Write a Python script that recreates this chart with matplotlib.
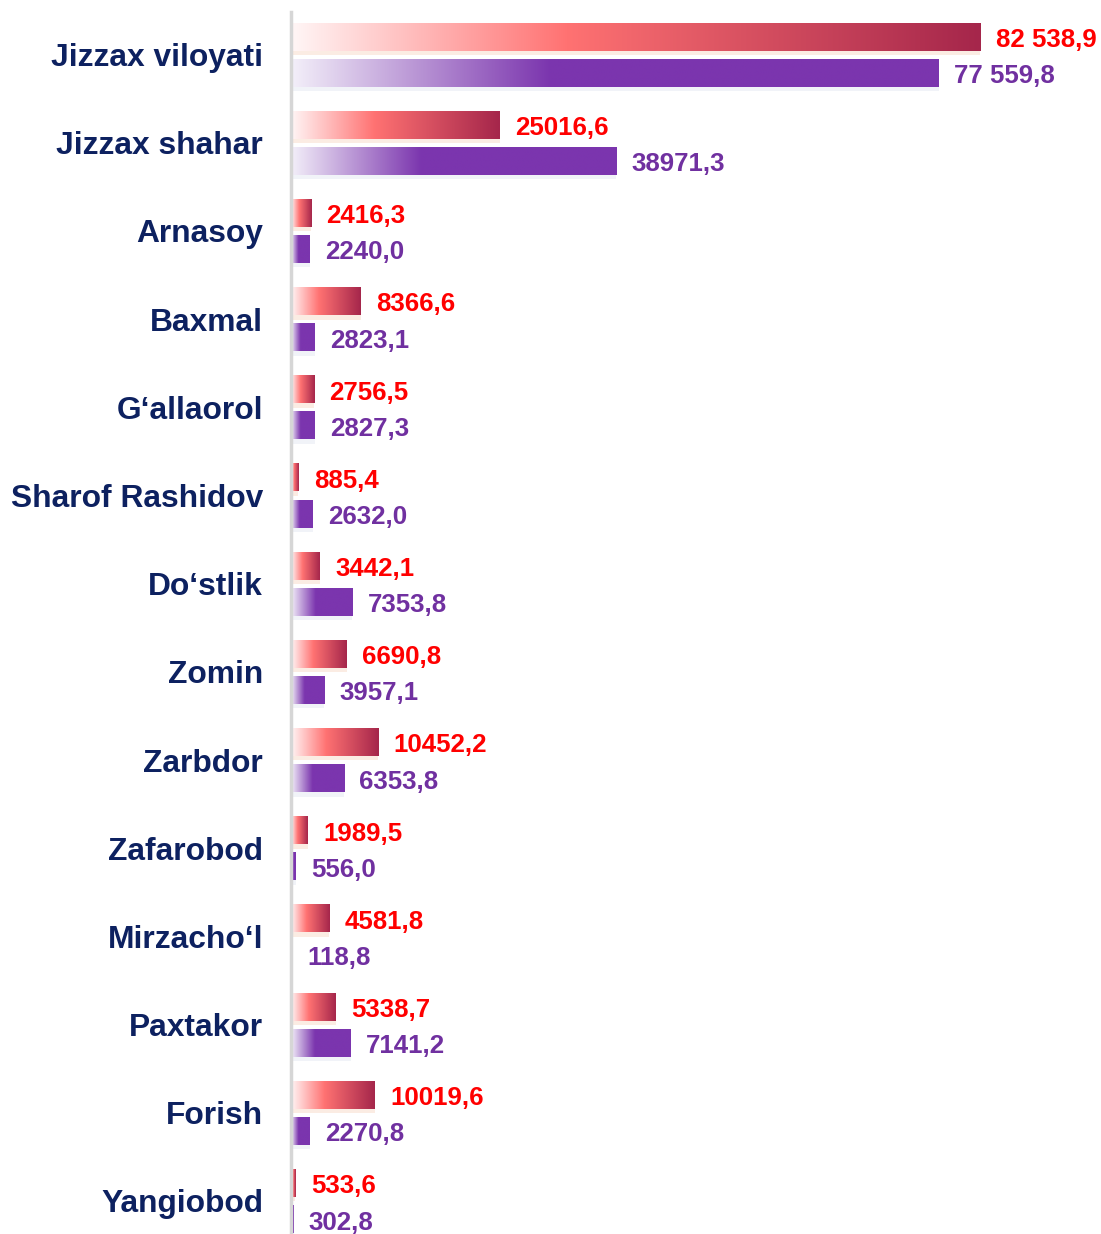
import matplotlib.pyplot as plt
import numpy as np
from matplotlib.colors import LinearSegmentedColormap
from matplotlib.patches import Rectangle

hududlar = ["Jizzax viloyati", "Jizzax shahar", "Arnasoy", "Baxmal", "G\u2018allaorol",
            "Sharof Rashidov", "Do\u2018stlik", "Zomin", "Zarbdor", "Zafarobod",
            "Mirzacho\u2018l", "Paxtakor", "Forish", "Yangiobod"]
qizil = [82538.9, 25016.6, 2416.3, 8366.6, 2756.5, 885.4, 3442.1, 6690.8,
         10452.2, 1989.5, 4581.8, 5338.7, 10019.6, 533.6]
binafsha = [77559.8, 38971.3, 2240.0, 2823.1, 2827.3, 2632.0, 7353.8, 3957.1,
            6353.8, 556.0, 118.8, 7141.2, 2270.8, 302.8]
qizil_yozuv = ["82 538,9", "25016,6", "2416,3", "8366,6", "2756,5", "885,4", "3442,1",
               "6690,8", "10452,2", "1989,5", "4581,8", "5338,7", "10019,6", "533,6"]
binafsha_yozuv = ["77 559,8", "38971,3", "2240,0", "2823,1", "2827,3", "2632,0", "7353,8",
                  "3957,1", "6353,8", "556,0", "118,8", "7141,2", "2270,8", "302,8"]

plt.rcParams['font.family'] = ['Liberation Sans', 'DejaVu Sans']

cmap_q = LinearSegmentedColormap.from_list("q", [(0, "#FFF6F6"), (0.4, "#FF7272"), (1, "#A5264B")])
cmap_b = LinearSegmentedColormap.from_list("b", [(0, "#F3EFF9"), (0.4, "#7B35AE"), (1, "#7B35AE")])
grad = np.linspace(0, 1, 256).reshape(1, -1)

fig = plt.figure(figsize=(11.01, 12.34), dpi=100)
ax = fig.add_axes([291 / 1101, 0, 1 - 291 / 1101, 1 - 12 / 1234])

h = 0.31
d = 0.205
for i in range(len(hududlar)):
    for v, off, cm, sh, rang, txt in [
        (qizil[i], -d, cmap_q, "#FBE8DC", "#FF0000", qizil_yozuv[i]),
        (binafsha[i], d, cmap_b, "#EEF1F7", "#7030A0", binafsha_yozuv[i]),
    ]:
        y = i + off
        ax.add_patch(Rectangle((0, y), v, h / 2 + 0.05,
                               color=sh, alpha=0.8, lw=0, zorder=1))
        ax.imshow(grad, cmap=cm, extent=[0, v, y + h / 2, y - h / 2],
                  aspect='auto', interpolation='bilinear', zorder=2)
        ax.annotate(txt, (v, y), xytext=(11, -2.2), textcoords='offset points',
                    va='center', ha='left', fontsize=18.6, fontweight='bold',
                    color=rang)
    ax.text(-28 / 0.008348, i + 0.035, hududlar[i], ha='right', va='center',
            fontsize=22.9, fontweight='bold', color='#0D2160')

ax.set_xlim(0, 97000)
ax.set_ylim(13.35 + 0.02, -0.487)
for s in ['top', 'right', 'bottom']:
    ax.spines[s].set_visible(False)
ax.spines['left'].set_color('#D6D6D6')
ax.spines['left'].set_linewidth(2.5)
ax.set_xticks([])
ax.set_yticks([])

plt.savefig("out.png", dpi=100)
